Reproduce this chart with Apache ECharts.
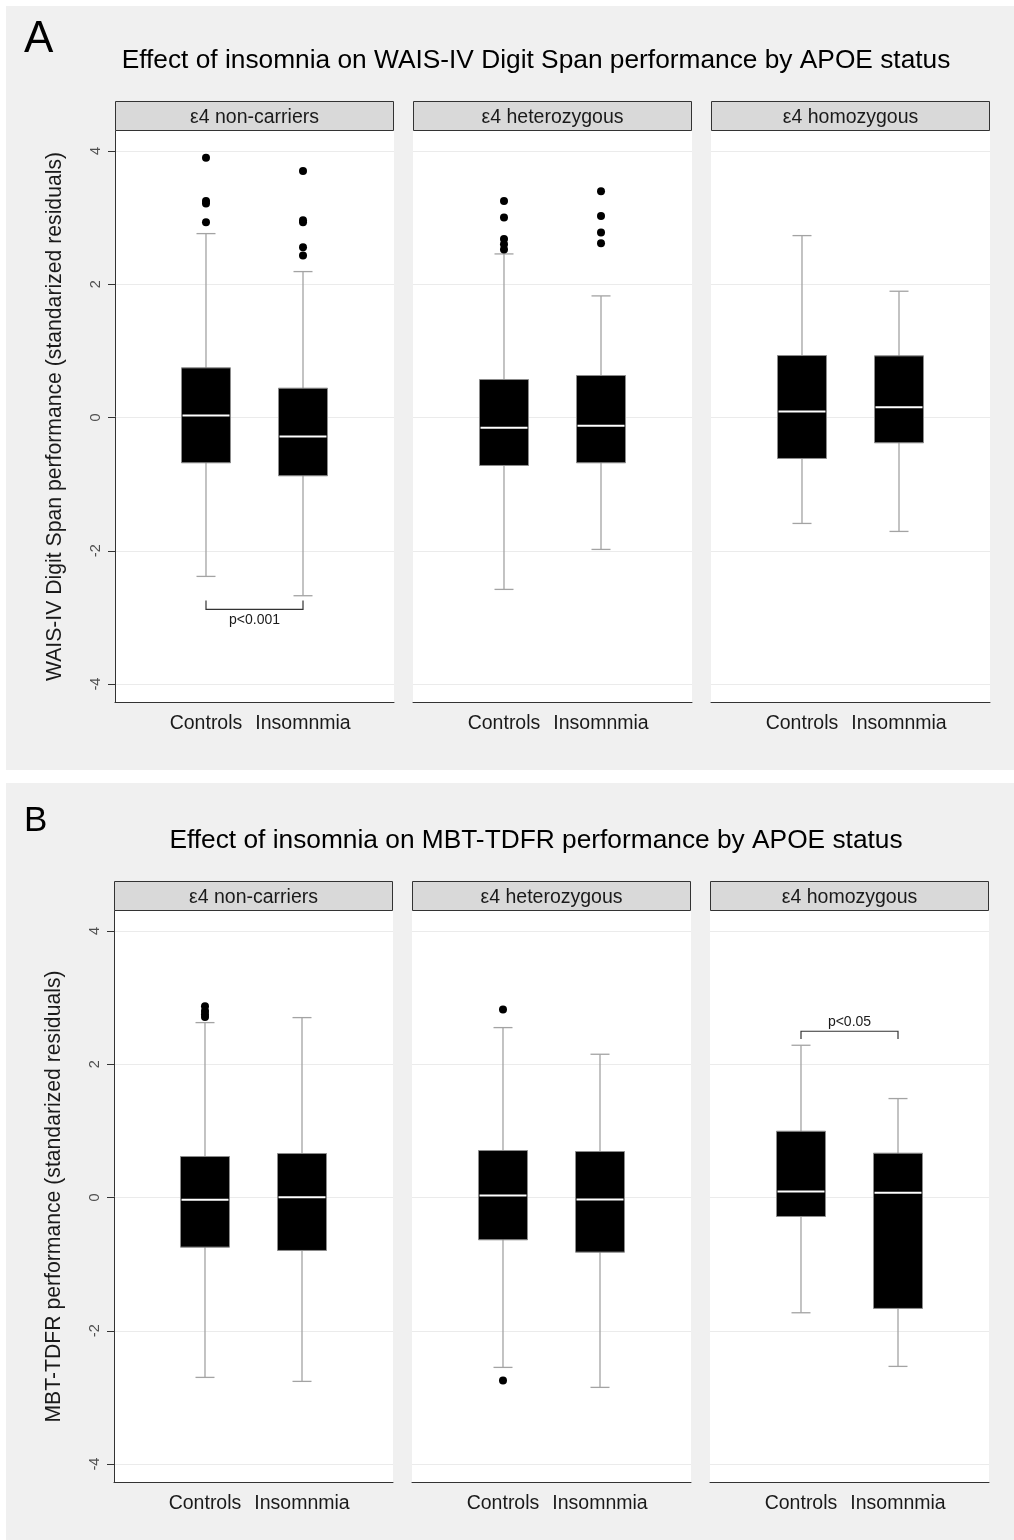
<!DOCTYPE html>
<html>
<head>
<meta charset="utf-8">
<script src="https://cdn.jsdelivr.net/npm/echarts@6/dist/echarts.min.js"></script>
<style>
html,body{margin:0;padding:0;background:#fff;}
#chart{width:1014px;height:1540px;}
</style>
</head>
<body>
<div id="chart"></div>
<script>
// ---------- data ----------
const categories = ['Controls', 'Insomnmia'];
const facets = ['ε4 non-carriers', 'ε4 heterozygous', 'ε4 homozygous'];
const yTicks = [-4, -2, 0, 2, 4];
const panelLetters = ['A', 'B'];
const panelTitles = [
  'Effect of insomnia on WAIS-IV Digit Span performance by APOE status',
  'Effect of insomnia on MBT-TDFR performance by APOE status'
];
const yNames = [
  'WAIS-IV Digit Span performance (standarized residuals)',
  'MBT-TDFR performance (standarized residuals)'
];

// box stats per facet: [lower whisker, Q1, median, Q3, upper whisker]
const digitSpanControls = [[-2.385, -0.68, 0.03, 0.745, 2.76], [-2.58, -0.72, -0.155, 0.57, 2.455], [-1.59, -0.615, 0.09, 0.93, 2.73]];
const digitSpanInsomnia = [[-2.675, -0.875, -0.285, 0.44, 2.19], [-1.98, -0.68, -0.125, 0.63, 1.825], [-1.71, -0.38, 0.155, 0.925, 1.895]];
const digitSpanOutControls = [[3.90, 3.25, 3.21, 2.93], [3.25, 3.0, 2.68, 2.6, 2.52], []];
const digitSpanOutInsomnia = [[3.70, 2.96, 2.93, 2.555, 2.43], [3.395, 3.025, 2.775, 2.615], []];

const mbtControls = [[-2.70, -0.745, -0.035, 0.615, 2.625], [-2.55, -0.635, 0.03, 0.705, 2.55], [-1.73, -0.285, 0.09, 0.995, 2.285]];
const mbtInsomnia = [[-2.76, -0.795, 0.005, 0.66, 2.70], [-2.85, -0.82, -0.03, 0.69, 2.15], [-2.535, -1.665, 0.07, 0.665, 1.485]];
const mbtOutControls = [[2.87, 2.80, 2.75, 2.71], [2.82, -2.745], []];
const mbtOutInsomnia = [[], [], []];

// significance brackets: [panel, facet, line y, end y, label y, label]
const brackets = [
  [0, 0, -2.88, -2.745, -3.045, 'p<0.001'],
  [1, 2, 2.495, 2.38, 2.635, 'p<0.05']
];

const panels = [
  {controls: digitSpanControls, insomnia: digitSpanInsomnia, outC: digitSpanOutControls, outI: digitSpanOutInsomnia},
  {controls: mbtControls, insomnia: mbtInsomnia, outC: mbtOutControls, outI: mbtOutInsomnia}
];

// ---------- layout ----------
const FONT = '"Liberation Sans", Arial, Helvetica, sans-serif';
const gridLefts = [[115, 413, 711], [114, 412, 710]];
const gridTops = [131, 911];
const GW = 279, GH = 571;
const Y_MIN = -4.27, Y_MAX = 4.30;
const X_MIN = 0.062, X_MAX = 2.938;

const grids = [], xAxes = [], yAxes = [], series = [], graphics = [];

// panel backgrounds
graphics.push({type: 'rect', z: -10, shape: {x: 6, y: 6, width: 1008, height: 764}, style: {fill: '#f0f0f0'}});
graphics.push({type: 'rect', z: -10, shape: {x: 6, y: 783, width: 1008, height: 757}, style: {fill: '#f0f0f0'}});

function renderBox(params, api) {
  const x = api.value(0);
  const lo = api.coord([x, api.value(1)]);
  const q1 = api.coord([x, api.value(2)]);
  const med = api.coord([x, api.value(3)]);
  const q3 = api.coord([x, api.value(4)]);
  const hi = api.coord([x, api.value(5)]);
  const cx = lo[0], bw = 49, cw = 19;
  const wStyle = {stroke: '#a3a3a3', lineWidth: 1.3};
  return {type: 'group', children: [
    {type: 'line', shape: {x1: cx, y1: lo[1], x2: cx, y2: hi[1]}, style: wStyle},
    {type: 'line', shape: {x1: cx - cw / 2, y1: lo[1], x2: cx + cw / 2, y2: lo[1]}, style: wStyle},
    {type: 'line', shape: {x1: cx - cw / 2, y1: hi[1], x2: cx + cw / 2, y2: hi[1]}, style: wStyle},
    {type: 'rect', shape: {x: cx - bw / 2, y: q3[1], width: bw, height: q1[1] - q3[1]},
      style: {fill: '#000', stroke: '#8c8c8c', lineWidth: 1}},
    {type: 'line', shape: {x1: cx - bw / 2 + 1, y1: med[1], x2: cx + bw / 2 - 1, y2: med[1]},
      style: {stroke: '#fff', lineWidth: 2}}
  ]};
}

function makeBracketRenderer(label) {
  return function (params, api) {
    const a = api.coord([api.value(0), api.value(2)]);
    const b = api.coord([api.value(1), api.value(2)]);
    const aEnd = api.coord([api.value(0), api.value(3)]);
    const t = api.coord([(api.value(0) + api.value(1)) / 2, api.value(4)]);
    return {type: 'group', children: [
      {type: 'polyline', shape: {points: [[a[0], aEnd[1]], a, b, [b[0], aEnd[1]]]},
        style: {stroke: '#333', lineWidth: 1.2, fill: null}},
      {type: 'text', x: t[0], y: t[1], style: {text: label, font: '14px ' + FONT,
        fill: '#1a1a1a', align: 'center', verticalAlign: 'middle'}}
    ]};
  };
}

for (let p = 0; p < 2; p++) {
  // letter and title
  graphics.push({type: 'text', x: 24, y: p === 0 ? 39.5 : 821, style: {text: panelLetters[p],
    font: (p === 0 ? 44 : 35) + 'px ' + FONT, fill: '#000', align: 'left', verticalAlign: 'middle'}});
  graphics.push({type: 'text', x: 536, y: p === 0 ? 61 : 841, style: {text: panelTitles[p],
    font: '26.3px ' + FONT, fill: '#000', align: 'center', verticalAlign: 'middle'}});

  for (let f = 0; f < 3; f++) {
    const gi = p * 3 + f;
    const left = gridLefts[p][f], top = gridTops[p];
    grids.push({left: left, top: top, width: GW, height: GH, show: true, backgroundColor: '#fff', borderWidth: 0});
    // strip
    graphics.push({type: 'rect', shape: {x: left + 0.5, y: top - 29.5, width: GW - 1, height: 29},
      style: {fill: '#d9d9d9', stroke: '#333', lineWidth: 1}});
    graphics.push({type: 'text', x: left + GW / 2, y: top - 13, style: {text: facets[f],
      font: '19.5px ' + FONT, fill: '#1a1a1a', align: 'center', verticalAlign: 'middle'}});

    xAxes.push({
      type: 'value', gridIndex: gi, min: X_MIN, max: X_MAX,
      axisLine: {show: true, onZero: false, lineStyle: {color: '#333', width: 1}},
      axisTick: {show: false, customValues: [1, 2]},
      splitLine: {show: false},
      axisLabel: {customValues: [1, 2], formatter: v => categories[Math.round(v) - 1] || '',
        fontSize: 19.5, fontFamily: FONT, color: '#1a1a1a', margin: 12}
    });
    const first = f === 0;
    yAxes.push({
      type: 'value', gridIndex: gi, min: Y_MIN, max: Y_MAX,
      name: first ? yNames[p] : '', nameLocation: 'middle', nameGap: 49, nameRotate: 90,
      nameTextStyle: {fontSize: 21.2, fontFamily: FONT, color: '#1a1a1a'},
      axisLine: {show: first, lineStyle: {color: '#333', width: 1}},
      axisTick: {show: first, customValues: yTicks, length: 7, lineStyle: {color: '#333'}},
      axisLabel: {show: first, customValues: yTicks, rotate: 90, fontSize: 14.5, fontFamily: FONT, color: '#4d4d4d', margin: 12},
      splitLine: {show: true, lineStyle: {color: '#ebebeb', width: 1.2}}
    });

    const pd = panels[p];
    series.push({
      type: 'custom', xAxisIndex: gi, yAxisIndex: gi, renderItem: renderBox,
      encode: {x: 0, y: [1, 2, 3, 4, 5]},
      data: [[1].concat(pd.controls[f]), [2].concat(pd.insomnia[f])], z: 2
    });
    const outs = pd.outC[f].map(v => [1, v]).concat(pd.outI[f].map(v => [2, v]));
    series.push({
      type: 'scatter', xAxisIndex: gi, yAxisIndex: gi, symbol: 'circle', symbolSize: 8,
      itemStyle: {color: '#000', opacity: 1}, data: outs, z: 3
    });
    brackets.filter(b => b[0] === p && b[1] === f).forEach(b => {
      series.push({
        type: 'custom', xAxisIndex: gi, yAxisIndex: gi,
        renderItem: makeBracketRenderer(b[5]),
        encode: {x: [0, 1], y: [2, 3, 4]},
        data: [[1, 2, b[2], b[3], b[4]]], z: 4
      });
    });
  }
}

const chart = echarts.init(document.getElementById('chart'), null, {renderer: 'canvas'});
chart.setOption({
  animation: false,
  backgroundColor: '#fff',
  textStyle: {fontFamily: FONT},
  grid: grids, xAxis: xAxes, yAxis: yAxes, series: series,
  graphic: {elements: graphics}
});
</script>
</body>
</html>
